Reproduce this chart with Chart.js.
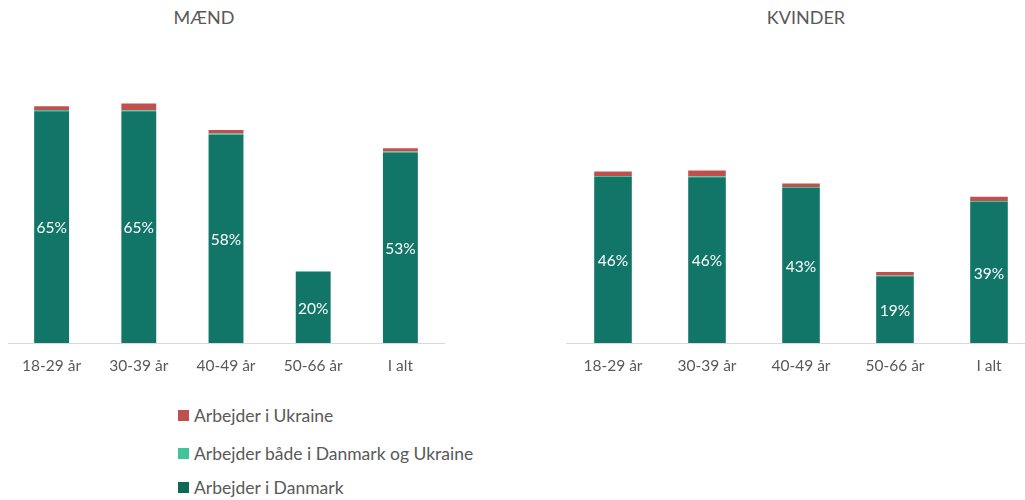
<!DOCTYPE html>
<html>
<head>
<meta charset="utf-8">
<script src="https://cdn.jsdelivr.net/npm/chart.js@4.4.1/dist/chart.umd.min.js"></script>
<style>
  html, body { margin:0; padding:0; background:#fff; width:1025px; height:500px; overflow:hidden; }
  body { position:relative; font-family: Lato, "Open Sans", sans-serif; }
  .title { position:absolute; top:6px; font-size:18px; color:#595959; transform:translateX(-50%); white-space:nowrap; }
  #wrapL { position:absolute; left:0; top:0; width:455px; height:390px; }
  #wrapR { position:absolute; left:556px; top:0; width:490px; height:390px; }
  #legend { position:absolute; left:178px; top:400px; font-size:17.5px; color:#595959; }
  .item { position:absolute; white-space:nowrap; display:flex; align-items:center; height:20px; }
  .sq { width:11px; height:11px; margin-right:5px; display:inline-block; }
</style>
</head>
<body>
<div class="title" style="left:204px">MÆND</div>
<div class="title" style="left:806px">KVINDER</div>
<div id="wrapL"><canvas id="cL"></canvas></div>
<div id="wrapR"><canvas id="cR"></canvas></div>
<div id="legend"></div>
<script>
const categories = ["18-29 år", "30-39 år", "40-49 år", "50-66 år", "I alt"];
const seriesNames = ["Arbejder i Danmark", "Arbejder både i Danmark og Ukraine", "Arbejder i Ukraine"];
const seriesColors = ["#117568", "#3fc49c", "#c0504d"];

const maendDanmark = [64.6, 64.6, 58.1, 19.8, 53.1];
const maendBegge   = [0.4, 0.3, 0.3, 0.2, 0.3];
const maendUkraine = [1.0, 1.9, 1.0, 0.1, 0.9];

const kvinderDanmark = [46.3, 46.2, 43.2, 18.6, 39.3];
const kvinderBegge   = [0.3, 0.3, 0.3, 0.2, 0.3];
const kvinderUkraine = [1.2, 1.6, 1.0, 1.0, 1.2];

const yMax = 70;

const barLabels = {
  id: 'barLabels',
  afterDatasetsDraw(chart) {
    const ctx = chart.ctx;
    const meta = chart.getDatasetMeta(0);
    const data = chart.data.datasets[0].data;
    ctx.save();
    ctx.fillStyle = '#ffffff';
    ctx.font = '15.5px Lato, "Open Sans", sans-serif';
    ctx.textAlign = 'center';
    ctx.textBaseline = 'middle';
    meta.data.forEach((bar, i) => {
      const p = bar.getProps(['x', 'y', 'base'], true);
      ctx.fillText(Math.round(data[i]) + '%', p.x, (p.y + p.base) / 2 + 1);
    });
    ctx.restore();
  }
};

function makeChart(id, d, b, u, pad) {
  const vals = [d, b, u];
  return new Chart(document.getElementById(id), {
    type: 'bar',
    data: {
      labels: categories,
      datasets: vals.map((v, i) => ({
        label: seriesNames[i],
        data: v,
        backgroundColor: seriesColors[i],
        borderWidth: 0,
        barPercentage: 0.4,
        categoryPercentage: 1.0
      }))
    },
    options: {
      responsive: true,
      maintainAspectRatio: false,
      animation: false,
      layout: { padding: pad },
      plugins: { legend: { display: false }, tooltip: { enabled: false } },
      scales: {
        x: {
          stacked: true,
          grid: { display: false },
          border: { display: true, color: '#d9d9d9', width: 1 },
          ticks: { color: '#595959', font: { family: 'Lato, "Open Sans", sans-serif', size: 15.5 }, padding: 6, maxRotation: 0 },
          afterFit(axis) { axis.height = 47; }
        },
        y: { stacked: true, display: false, min: 0, max: yMax }
      }
    },
    plugins: [barLabels]
  });
}

makeChart('cL', maendDanmark, maendBegge, maendUkraine, { top: 92, bottom: 0, left: 8, right: 11 });
makeChart('cR', kvinderDanmark, kvinderBegge, kvinderUkraine, { top: 92, bottom: 0, left: 10, right: 10 });

const legend = document.getElementById('legend');
const tops = [5, 43, 77];
[2, 1, 0].forEach((si, k) => {
  const it = document.createElement('div');
  it.className = 'item';
  it.style.top = tops[k] + 'px';
  const sq = document.createElement('span');
  sq.className = 'sq';
  sq.style.background = si === 0 ? '#0e6a55' : seriesColors[si];
  it.appendChild(sq);
  it.appendChild(document.createTextNode(seriesNames[si]));
  legend.appendChild(it);
});
</script>
</body>
</html>
